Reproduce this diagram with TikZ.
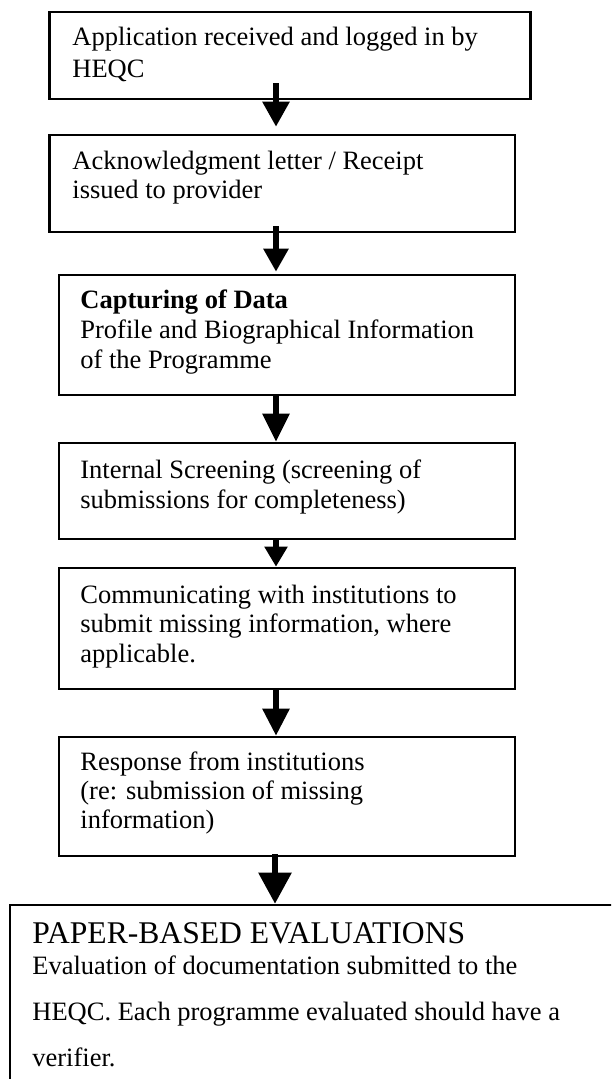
\documentclass[tikz,border=0pt]{standalone}
\usepackage{fontspec}
\setmainfont{Liberation Serif}
\usetikzlibrary{arrows.meta,fit,calc}
\begin{document}
\begin{tikzpicture}[x=0.5pt,y=-0.5pt,
  box/.style={draw, line width=1.3pt, inner sep=0pt},
  txt/.style={inner sep=0pt, anchor=base west},
  arr/.style={line width=2.8pt},
]
\useasboundingbox (0,0) rectangle (611,1079);
\clip (0,0) rectangle (611,1079);
% boxes
\node[box, fit={(49.5,12) (530.7,99)}] (b1) {};
\node[box, fit={(49.5,135) (515,232)}] (b2) {};
\node[box, fit={(59,275) (515,395)}] (b3) {};
\node[box, fit={(59,443) (515,539)}] (b4) {};
\node[box, fit={(59,568) (515,689)}] (b5) {};
\node[box, fit={(59,737) (515,856)}] (b6) {};
\node[box, fit={(10,905) (760,1250)}] (b7) {};
% texts
\node[txt] (t1) at (72,45.7) {\parbox[t]{240pt}{\raggedright\fontsize{13.25}{16}\selectfont Application received and logged in by\\HEQC}};
\node[txt] (t2) at (72,170) {\parbox[t]{240pt}{\raggedright\fontsize{13.25}{14.5}\selectfont Acknowledgment letter / Receipt\\issued to provider}};
\node[txt] (t3) at (80,309) {\parbox[t]{240pt}{\raggedright\fontsize{13.25}{15}\selectfont \textbf{Capturing of Data}\\Profile and Biographical Information\\of the Programme}};
\node[txt] (t4) at (80,478) {\parbox[t]{240pt}{\raggedright\fontsize{13.25}{15}\selectfont Internal Screening (screening of\\submissions for completeness)}};
\node[txt] (t5) at (80,603) {\parbox[t]{240pt}{\raggedright\fontsize{13.25}{14.8}\selectfont Communicating with institutions to\\submit missing information, where\\applicable.}};
\node[txt] (t6) at (80,770) {\parbox[t]{240pt}{\raggedright\fontsize{13.25}{14.6}\selectfont Response from institutions\\(re: submission of missing\\information)}};
\node[txt] (t7) at (32,943) {\parbox[t]{280pt}{\raggedright\fontsize{13.25}{23}\selectfont {\fontsize{15.8}{23}\selectfont PAPER-BASED EVALUATIONS}\\[-7.5pt]Evaluation of documentation submitted to the\\HEQC. Each programme evaluated should have a\\verifier.}};
% arrows
\coordinate (ax) at (276,0);
\coordinate (ax6) at (275,0);
\draw[arr, -{Triangle[length=12.5pt,width=13pt]}, shorten >=3.5pt] ($(b1.south -| ax)+(0,-17)$) -- (b2.north -| ax);
\draw[arr, -{Triangle[length=11.5pt,width=12pt]}, shorten >=1pt] ($(b2.south -| ax)+(0,-7)$) -- (b3.north -| ax);
\draw[arr, -{Triangle[length=14pt,width=13pt]}] (b3.south -| ax) -- (b4.north -| ax);
\draw[arr, -{Triangle[length=10pt,width=11pt]}] (b4.south -| ax) -- (b5.north -| ax);
\draw[arr, -{Triangle[length=13.5pt,width=13pt]}] (b5.south -| ax) -- (b6.north -| ax);
\draw[arr, -{Triangle[length=15.5pt,width=16pt]}] ($(b6.south -| ax6)+(0,-3)$) -- (b7.north -| ax6);
\end{tikzpicture}
\end{document}
